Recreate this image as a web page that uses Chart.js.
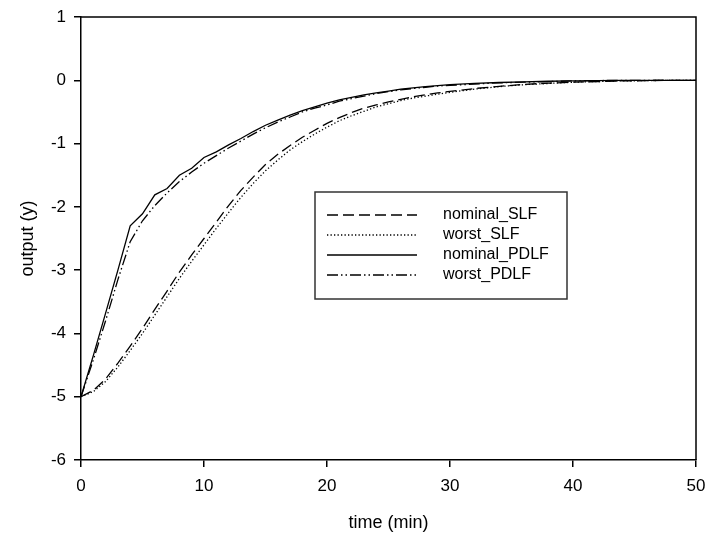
<!DOCTYPE html>
<html>
<head>
<meta charset="utf-8">
<script src="https://cdn.jsdelivr.net/npm/chart.js@4.4.0/dist/chart.umd.min.js"></script>
<style>
  html, body { margin: 0; padding: 0; background: #fff; }
  #wrap { width: 707px; height: 537px; }
</style>
</head>
<body>
<div id="wrap"><canvas id="myChart" width="707" height="537"></canvas></div>
<script>
// time axis (min)
const timeMin = [0, 1, 2, 3, 4, 5, 6, 7, 8, 9, 10, 11, 12, 13, 14, 15, 16, 17, 18, 19, 20,
    21, 22, 23, 24, 25, 26, 27, 28, 29, 30, 32, 34, 36, 38, 40, 42, 44, 46, 48, 50];

const nominalSLF = [-5, -4.9, -4.72, -4.47, -4.2, -3.92, -3.62, -3.33, -3.03, -2.76, -2.5,
    -2.24, -1.98, -1.74, -1.53, -1.33, -1.17, -1.03, -0.9, -0.79, -0.68,
    -0.59, -0.51, -0.44, -0.39, -0.34, -0.3, -0.26, -0.23, -0.2, -0.175,
    -0.13, -0.095, -0.065, -0.045, -0.03, -0.02, -0.01, -0.005, 0, 0];

const worstSLF = [-5, -4.92, -4.76, -4.53, -4.27, -4.0, -3.71, -3.42, -3.13, -2.86, -2.6,
    -2.34, -2.09, -1.85, -1.63, -1.43, -1.26, -1.1, -0.97, -0.85, -0.74,
    -0.64, -0.56, -0.49, -0.42, -0.37, -0.32, -0.28, -0.25, -0.22, -0.19,
    -0.14, -0.1, -0.07, -0.05, -0.03, -0.02, -0.01, -0.005, 0, 0];

const nominalPDLF = [-5, -4.35, -3.68, -3.0, -2.3, -2.11, -1.81, -1.71, -1.5, -1.39, -1.22,
    -1.13, -1.02, -0.92, -0.81, -0.71, -0.63, -0.55, -0.48, -0.42, -0.36,
    -0.31, -0.27, -0.23, -0.2, -0.17, -0.14, -0.12, -0.1, -0.085, -0.07,
    -0.05, -0.035, -0.025, -0.015, -0.01, -0.005, 0, 0, 0, 0];

const worstPDLF = [-5, -4.42, -3.8, -3.15, -2.55, -2.22, -1.98, -1.78, -1.6, -1.45, -1.31,
    -1.19, -1.07, -0.96, -0.85, -0.75, -0.66, -0.58, -0.5, -0.44, -0.39,
    -0.33, -0.29, -0.25, -0.21, -0.18, -0.15, -0.13, -0.11, -0.09, -0.08,
    -0.06, -0.04, -0.03, -0.02, -0.01, -0.005, 0, 0, 0, 0];

const seriesNames = ['nominal_SLF', 'worst_SLF', 'nominal_PDLF', 'worst_PDLF'];
const yTicks = [1, 0, -1, -2, -3, -4, -5, -6];
const xTicks = [0, 10, 20, 30, 40, 50];

const FONT = "'Liberation Sans', Arial, sans-serif";

function pts(values) {
    return timeMin.map((t, i) => ({ x: t, y: values[i] }));
}

function line(label, values, dash, width) {
    return {
        label: label,
        data: pts(values),
        borderColor: '#000',
        borderWidth: width,
        borderDash: dash,
        pointRadius: 0,
        fill: false,
        tension: 0
    };
}

// top and right edges of the frame
const framePlugin = {
    id: 'frame',
    afterDraw(chart) {
        const { ctx, chartArea: a } = chart;
        ctx.save();
        ctx.strokeStyle = '#000';
        ctx.lineWidth = 1.5;
        ctx.beginPath();
        ctx.moveTo(a.left, a.top);
        ctx.lineTo(a.right, a.top);
        ctx.lineTo(a.right, a.bottom);
        ctx.stroke();
        ctx.restore();
    }
};

// boxed legend inside the plot
const boxLegend = {
    id: 'boxLegend',
    afterDraw(chart) {
        const ctx = chart.ctx;
        ctx.save();
        ctx.fillStyle = '#fff';
        ctx.fillRect(315, 192, 252, 107);
        ctx.strokeStyle = '#333';
        ctx.lineWidth = 1.5;
        ctx.strokeRect(315, 192, 252, 107);
        ctx.font = '16px ' + FONT;
        ctx.textBaseline = 'middle';
        chart.data.datasets.forEach((ds, i) => {
            const y = 215 + i * 20;
            ctx.strokeStyle = '#000';
            ctx.lineWidth = ds.borderWidth;
            ctx.setLineDash(ds.borderDash);
            ctx.beginPath();
            ctx.moveTo(327, y);
            ctx.lineTo(417, y);
            ctx.stroke();
            ctx.setLineDash([]);
            ctx.fillStyle = '#000';
            ctx.fillText(ds.label, 443, y);
        });
        ctx.restore();
    }
};

const ctx = document.getElementById('myChart').getContext('2d');
const myChart = new Chart(ctx, {
    type: 'line',
    data: {
        datasets: [
            line(seriesNames[0], nominalSLF, [11, 5], 1.3),
            line(seriesNames[1], worstSLF, [1.3, 2.2], 1.3),
            line(seriesNames[2], nominalPDLF, [], 1.3),
            line(seriesNames[3], worstPDLF, [11, 3, 1.5, 3, 1.5, 3], 1.3)
        ]
    },
    options: {
        responsive: false,
        animation: false,
        layout: { padding: { top: 17, right: 11, left: 0, bottom: 0 } },
        plugins: {
            legend: { display: false },
            tooltip: { enabled: false }
        },
        scales: {
            x: {
                type: 'linear',
                min: 0,
                max: 50,
                afterBuildTicks: (s) => { s.ticks = xTicks.map(v => ({ value: v })); },
                afterFit: (s) => { s.height = 77; s.paddingLeft = 0; s.paddingRight = 0; },
                ticks: { color: '#000', padding: 9, font: { size: 17, family: FONT } },
                grid: { display: true, drawOnChartArea: false, drawTicks: true, tickLength: 7, color: '#000', lineWidth: 1.5 },
                border: { display: true, color: '#000', width: 1.5 },
                title: { display: true, text: 'time (min)', color: '#000', font: { size: 18, family: FONT }, padding: { top: 0, bottom: 3 } }
            },
            y: {
                type: 'linear',
                min: -6,
                max: 1,
                afterBuildTicks: (s) => { s.ticks = yTicks.map(v => ({ value: v })); },
                afterFit: (s) => { s.width = 81; s.paddingTop = 0; s.paddingBottom = 0; },
                ticks: { color: '#000', padding: 8, font: { size: 17, family: FONT } },
                grid: { display: true, drawOnChartArea: false, drawTicks: true, tickLength: 7, color: '#000', lineWidth: 1.5 },
                border: { display: true, color: '#000', width: 1.5 },
                title: { display: true, text: 'output (y)', color: '#000', font: { size: 18, family: FONT }, padding: { top: 17, bottom: 0 } }
            }
        }
    },
    plugins: [framePlugin, boxLegend]
});
</script>
</body>
</html>
